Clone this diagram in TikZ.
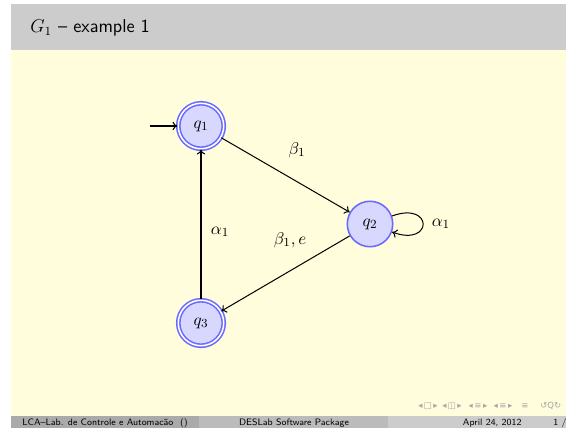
\documentclass[tikz,border=0pt]{standalone}
\usepackage{fontspec}
\newfontfamily\symf{DejaVu Sans}
\usetikzlibrary{automata,arrows.meta}
\definecolor{slidebg}{RGB}{255,253,220}
\definecolor{titlebg}{RGB}{204,204,204}
\definecolor{footA}{RGB}{170,170,170}
\definecolor{footB}{RGB}{187,187,187}
\definecolor{footC}{RGB}{204,204,204}
\definecolor{stateline}{RGB}{105,105,255}
\definecolor{statefill}{RGB}{216,216,255}
\begin{document}
\begin{tikzpicture}[x=0.6443pt,y=-0.6443pt,
  stateb/.style={circle,draw=stateline,fill=statefill,line width=1pt,
    minimum size=29.3pt,inner sep=0pt,font=\fontsize{11}{13}\selectfont},
  acc/.style={double=white,double distance=1pt},
  edge/.style={-{To[length=3.2pt,width=5.5pt]},line width=0.65pt,black},
  lbl/.style={font=\fontsize{11}{13}\selectfont},
  foot/.style={font=\sffamily\fontsize{6}{7}\selectfont},
  navs/.style={font=\symf\fontsize{5.5}{6}\selectfont,text=black!35,inner sep=0pt}]
\useasboundingbox (0,0) rectangle (566,428);
\fill[white] (0,0) rectangle (566,428);
\fill[slidebg] (11,50) rectangle (566,416);
\fill[titlebg] (11,4) rectangle (566,50);
\fill[footA] (11,416) rectangle (199,428);
\fill[footB] (199,416) rectangle (388,428);
\fill[footC] (388,416) rectangle (566,428);
\node[anchor=base west,inner sep=0pt,font=\sffamily\fontsize{12}{14}\selectfont] (title) at (30,33) {$G_1$ -- example 1};
% states
\node[stateb,acc] (q1) at (201,126) {$q_1$};
\node[stateb] (q2) at (370,224) {$q_2$};
\node[stateb,acc] (q3) at (201,323) {$q_3$};
\coordinate (init) at (150,126);
\draw[edge] (init) -- (q1);
\draw[edge] (q1) -- (q2) node[lbl,midway,shift={(11.5,-25)}] {$\beta_1$};
\draw[edge] (q2) -- (q3) node[lbl,midway,shift={(4.5,-33.5)}] {$\beta_1, e$};
\draw[edge] (q3) -- (q1) node[lbl,midway,shift={(19,7.5)}] {$\alpha_1$};
\draw[edge] (q2) to[out=20,in=-20,looseness=7] node[lbl,right,xshift=2pt] {$\alpha_1$} (q2);
% footer
\node[foot,anchor=base] (fa) at (105,425) {LCA--Lab. de Controle e Automacão~~()};
\node[foot,anchor=base] (fb) at (294,425) {DESLab Software Package};
\node[foot,anchor=base east] (fc) at (527,425) {April 24, 2012};
\node[foot,anchor=base west] (fd) at (548,425) {1 / 1};
% navigation symbols
\node[navs] (n1) at (428,406) {◂\,□\,▸};
\node[navs] (n2) at (452,406) {◂\,◫\,▸};
\node[navs] (n3) at (478,406) {◂\,≡\,▸};
\node[navs] (n4) at (503,406) {◂\,≡\,▸};
\node[navs] (n5) at (525,406) {≡};
\node[navs,anchor=west] (n6) at (540,406) {↺Q↻};
\end{tikzpicture}
\end{document}
